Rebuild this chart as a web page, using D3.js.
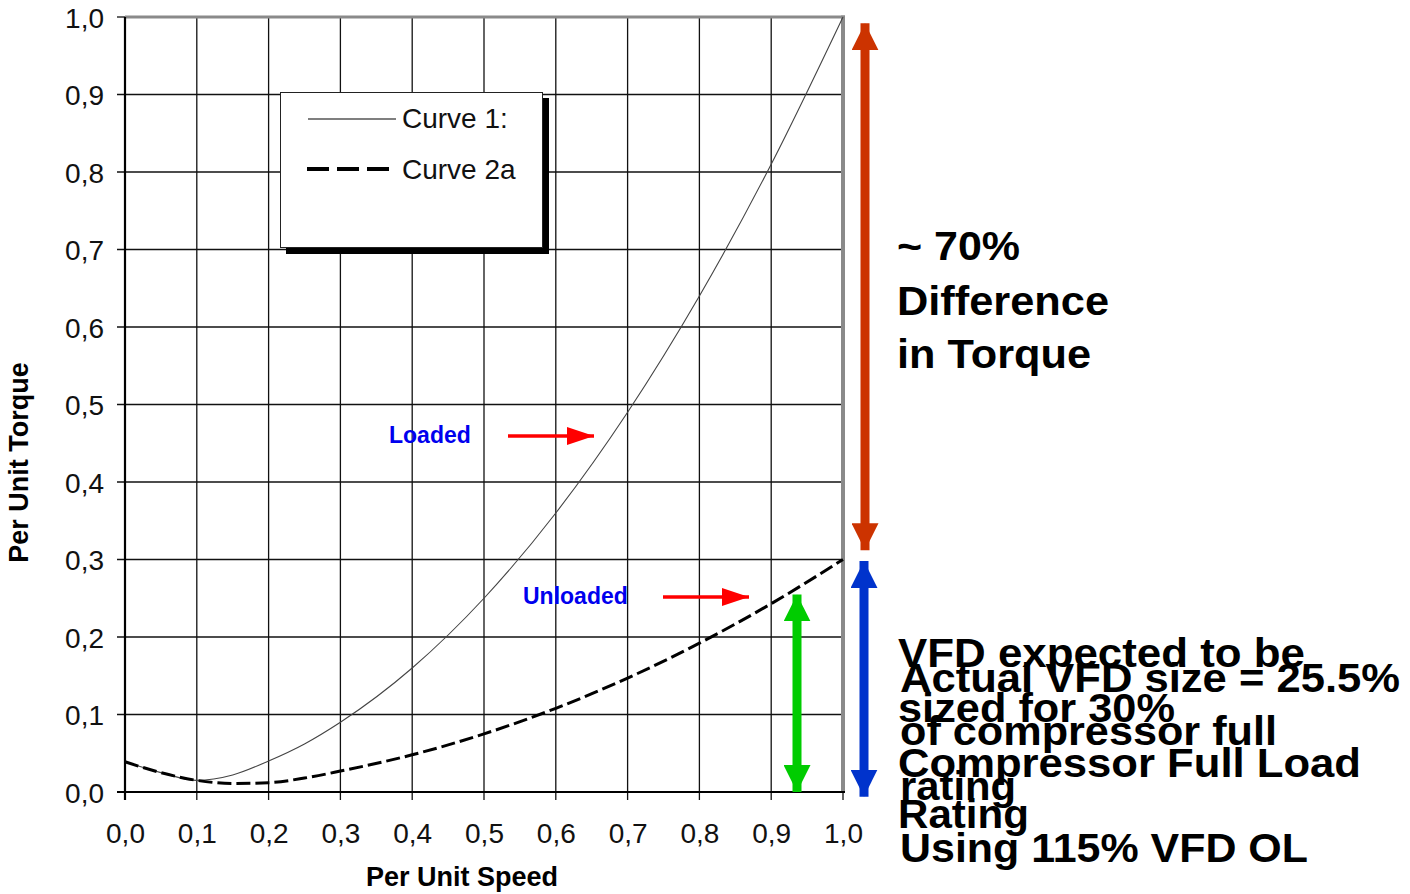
<!DOCTYPE html>
<html>
<head>
<meta charset="utf-8">
<script src="https://cdn.jsdelivr.net/npm/d3@7/dist/d3.min.js"></script>
<style>
  html, body { margin: 0; padding: 0; background: #fff; }
  svg { display: block; font-family: "Liberation Sans", Arial, sans-serif; }
</style>
</head>
<body>
<svg id="chart" width="1410" height="894"></svg>
<script>
// ---------- data ----------
const speed   = [0, 0.05, 0.1, 0.15, 0.2, 0.25, 0.3, 0.4, 0.5, 0.6, 0.7, 0.8, 0.9, 1.0];
const curve1  = [0.039, 0.025, 0.015, 0.022, 0.040, 0.062, 0.090, 0.160, 0.250, 0.360, 0.490, 0.640, 0.810, 1.000];
const curve2a = [0.039, 0.025, 0.015, 0.011, 0.012, 0.018, 0.027, 0.048, 0.075, 0.108, 0.147, 0.192, 0.243, 0.300];
const xTicks = [0, 0.1, 0.2, 0.3, 0.4, 0.5, 0.6, 0.7, 0.8, 0.9, 1.0];
const yTicks = [0, 0.1, 0.2, 0.3, 0.4, 0.5, 0.6, 0.7, 0.8, 0.9, 1.0];
const seriesNames = ["Curve 1:", "Curve 2a"];
// annotation ranges (per unit torque)
const loadedRange = [0.3, 1.0];      // ~70% difference
const expectedRange = [0, 0.3];      // VFD expected 30%
const actualRange = [0, 0.255];      // actual 25.5%
const block70 = ["~ 70%", "Difference", "in Torque"];
const blockExpected = ["VFD expected to be", "sized for 30%", "Compressor Full Load", "Rating"];
const blockActual = ["Actual VFD size = 25.5%", "of compressor full", "rating", "Using 115% VFD OL"];

// ---------- setup ----------
const svg = d3.select("#chart");
const x = d3.scaleLinear().domain([0, 1]).range([125, 843]);
const y = d3.scaleLinear().domain([0, 1]).range([792, 17]);
const fmt = v => d3.format(".1f")(v).replace(".", ",");

// gridlines
const grid = svg.append("g");
grid.selectAll(".vg").data(xTicks.slice(0, -1)).join("line")
  .attr("x1", d => x(d)).attr("x2", d => x(d))
  .attr("y1", y(1)).attr("y2", y(0) + 8)
  .attr("stroke", "#111").attr("stroke-width", 1.3);
grid.append("line").attr("x1", x(1)).attr("x2", x(1)).attr("y1", y(0)).attr("y2", y(0) + 8)
  .attr("stroke", "#111").attr("stroke-width", 1.3);
grid.selectAll(".hg").data(yTicks.slice(0, -1)).join("line")
  .attr("x1", x(0) - 8).attr("x2", x(1))
  .attr("y1", d => y(d)).attr("y2", d => y(d))
  .attr("stroke", "#111").attr("stroke-width", 1.3);
grid.append("line").attr("x1", x(0) - 8).attr("x2", x(0)).attr("y1", y(1)).attr("y2", y(1))
  .attr("stroke", "#111").attr("stroke-width", 1.3);

// gray top/right border
svg.append("line").attr("x1", x(0)).attr("x2", x(1) + 2).attr("y1", y(1)).attr("y2", y(1))
  .attr("stroke", "#8a8a8a").attr("stroke-width", 3);
svg.append("line").attr("x1", x(1)).attr("x2", x(1)).attr("y1", y(1) - 1.5).attr("y2", y(0))
  .attr("stroke", "#8a8a8a").attr("stroke-width", 4);

// axes (labels via d3 axis)
const xAxis = d3.axisBottom(x).tickValues(xTicks).tickFormat(fmt).tickSize(0).tickPadding(0);
const gx = svg.append("g").attr("transform", `translate(0,${y(0)})`).call(xAxis);
gx.select(".domain").remove();
gx.selectAll("text").attr("font-size", 28).attr("fill", "#111")
  .attr("font-family", "Liberation Sans, Arial, sans-serif")
  .attr("dy", null).attr("y", 51);

const yAxis = d3.axisLeft(y).tickValues(yTicks).tickFormat(fmt).tickSize(0).tickPadding(0);
const gy = svg.append("g").attr("transform", `translate(104,0)`).call(yAxis);
gy.select(".domain").remove();
gy.selectAll("text").attr("font-size", 28).attr("fill", "#111")
  .attr("font-family", "Liberation Sans, Arial, sans-serif")
  .attr("dy", "0.36em").attr("x", 0);

// main axis lines
svg.append("line").attr("x1", x(0)).attr("x2", x(0)).attr("y1", y(1)).attr("y2", y(0) + 8)
  .attr("stroke", "#000").attr("stroke-width", 2.2);
svg.append("line").attr("x1", x(0) - 8).attr("x2", x(1) + 2).attr("y1", y(0)).attr("y2", y(0))
  .attr("stroke", "#000").attr("stroke-width", 2.2);

// axis titles
svg.append("text").attr("x", 462).attr("y", 886)
  .attr("text-anchor", "middle").attr("font-weight", "bold").attr("font-size", 27)
  .attr("fill", "#000").text("Per Unit Speed");
svg.append("text").attr("transform", `translate(28,${(y(0) + y(1)) / 2 + 58}) rotate(-90)`)
  .attr("text-anchor", "middle").attr("font-weight", "bold").attr("font-size", 27)
  .attr("fill", "#000").text("Per Unit Torque");

// curves
const line = d3.line().x(d => x(d[0])).y(d => y(d[1])).curve(d3.curveMonotoneX);
svg.append("path").datum(speed.map((s, i) => [s, curve1[i]])).attr("d", line)
  .attr("fill", "none").attr("stroke", "#444").attr("stroke-width", 1.1);
svg.append("path").datum(speed.map((s, i) => [s, curve2a[i]])).attr("d", line)
  .attr("fill", "none").attr("stroke", "#000").attr("stroke-width", 3)
  .attr("stroke-dasharray", "14,5");

// legend
const lg = svg.append("g");
lg.append("rect").attr("x", 286).attr("y", 98).attr("width", 263).attr("height", 156).attr("fill", "#000");
lg.append("rect").attr("x", 280.5).attr("y", 92.5).attr("width", 262).attr("height", 155)
  .attr("fill", "#fff").attr("stroke", "#222").attr("stroke-width", 1);
lg.append("line").attr("x1", 308).attr("x2", 396).attr("y1", 119).attr("y2", 119)
  .attr("stroke", "#000").attr("stroke-width", 1.2);
lg.append("line").attr("x1", 307).attr("x2", 389).attr("y1", 169).attr("y2", 169)
  .attr("stroke", "#000").attr("stroke-width", 4).attr("stroke-dasharray", "22,8");
lg.selectAll(".lt").data(seriesNames).join("text")
  .attr("x", 402).attr("y", (d, i) => 128 + i * 51)
  .attr("font-size", 28).attr("fill", "#111").text(d => d);

// arrowheads
const defs = svg.append("defs");
function marker(id, color, w, h) {
  defs.append("marker").attr("id", id).attr("viewBox", `0 0 ${h} ${w}`)
    .attr("refX", h).attr("refY", w / 2).attr("markerUnits", "userSpaceOnUse")
    .attr("markerWidth", h).attr("markerHeight", w).attr("orient", "auto-start-reverse")
    .append("path").attr("d", `M0,0L${h},${w / 2}L0,${w}Z`).attr("fill", color);
}
marker("redHead", "#ff0000", 18, 27);
marker("orHead", "#cc3300", 27, 27);
marker("blHead", "#0033cc", 27, 27);
marker("grHead", "#00cc00", 27, 27);

// Loaded / Unloaded labels
svg.append("text").attr("x", 389).attr("y", 443).attr("font-size", 23).attr("font-weight", "bold")
  .attr("fill", "#0000ee").text("Loaded");
svg.append("line").attr("x1", 508).attr("x2", 594).attr("y1", 436).attr("y2", 436)
  .attr("stroke", "#ff0000").attr("stroke-width", 3.5).attr("marker-end", "url(#redHead)");
svg.append("text").attr("x", 523).attr("y", 604).attr("font-size", 23).attr("font-weight", "bold")
  .attr("fill", "#0000ee").text("Unloaded");
svg.append("line").attr("x1", 663).attr("x2", 749).attr("y1", 597).attr("y2", 597)
  .attr("stroke", "#ff0000").attr("stroke-width", 3.5).attr("marker-end", "url(#redHead)");

// double arrows
function dbl(xp, r, color, id) {
  svg.append("line").attr("x1", xp).attr("x2", xp)
    .attr("y1", y(r[1])).attr("y2", y(r[0]))
    .attr("stroke", color).attr("stroke-width", 9)
    .attr("marker-start", `url(#${id})`).attr("marker-end", `url(#${id})`);
}
dbl(865, [loadedRange[0] + 0.012, loadedRange[1] - 0.008], "#cc3300", "orHead");
dbl(864, [expectedRange[0] - 0.006, expectedRange[1] - 0.002], "#0033cc", "blHead");
dbl(797, actualRange, "#00cc00", "grHead");

// right-hand texts
function block(lines, x0, ys, widths) {
  svg.append("g").selectAll("text").data(lines).join("text")
    .attr("x", x0).attr("y", (d, i) => ys[i])
    .attr("font-size", 40).attr("font-weight", "bold").attr("fill", "#000")
    .attr("textLength", (d, i) => widths[i]).attr("lengthAdjust", "spacingAndGlyphs")
    .text(d => d);
}
block(block70, 897, [260, 315, 368], [123, 212, 194]);
block(blockExpected, 898, [667, 722, 777, 828], [407, 277, 463, 131]);
block(blockActual, 900, [692, 745, 800, 862], [500, 377, 116, 408]);
</script>
</body>
</html>
